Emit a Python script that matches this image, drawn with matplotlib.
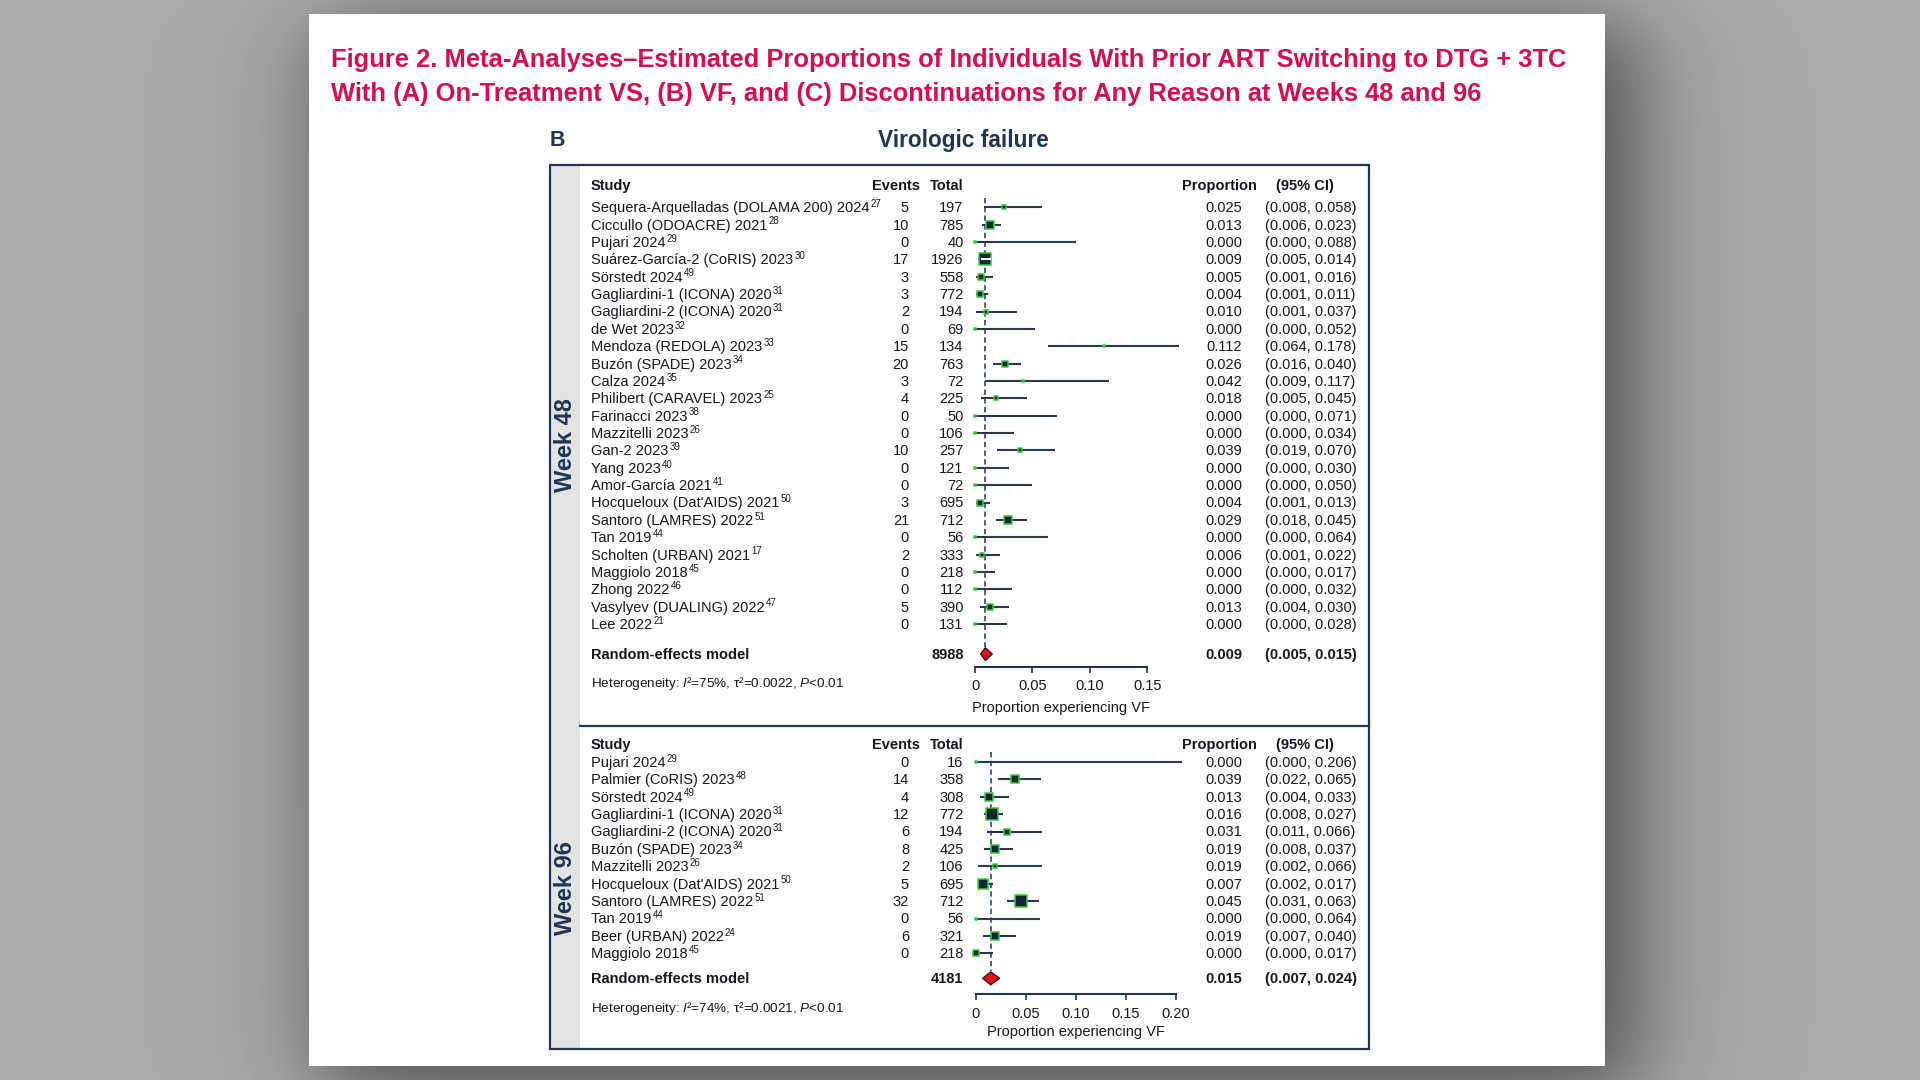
import numpy as np
import matplotlib
matplotlib.use("Agg")
import matplotlib.pyplot as plt
from matplotlib import transforms
from matplotlib.patches import Rectangle, Polygon

plt.rcParams['font.family'] = ['Liberation Sans', 'DejaVu Sans']
plt.rcParams['mathtext.fontset'] = 'custom'
plt.rcParams['mathtext.rm'] = 'Liberation Sans'
plt.rcParams['mathtext.it'] = 'Liberation Sans:italic'
plt.rcParams['mathtext.bf'] = 'Liberation Sans:bold'

# ---------------- data: Week 48 ----------------
studies_48 = ["Sequera-Arquelladas (DOLAMA 200) 2024", "Ciccullo (ODOACRE) 2021", "Pujari 2024",
              "Suárez-García-2 (CoRIS) 2023", "Sörstedt 2024", "Gagliardini-1 (ICONA) 2020",
              "Gagliardini-2 (ICONA) 2020", "de Wet 2023", "Mendoza (REDOLA) 2023", "Buzón (SPADE) 2023",
              "Calza 2024", "Philibert (CARAVEL) 2023", "Farinacci 2023", "Mazzitelli 2023", "Gan-2 2023",
              "Yang 2023", "Amor-García 2021", "Hocqueloux (Dat'AIDS) 2021", "Santoro (LAMRES) 2022",
              "Tan 2019", "Scholten (URBAN) 2021", "Maggiolo 2018", "Zhong 2022", "Vasylyev (DUALING) 2022",
              "Lee 2022"]
refs_48 = ["27", "28", "29", "30", "49", "31", "31", "32", "33", "34", "35", "25", "38", "26", "39",
           "40", "41", "50", "51", "44", "17", "45", "46", "47", "21"]
events_48 = [5, 10, 0, 17, 3, 3, 2, 0, 15, 20, 3, 4, 0, 0, 10, 0, 0, 3, 21, 0, 2, 0, 0, 5, 0]
total_48 = [197, 785, 40, 1926, 558, 772, 194, 69, 134, 763, 72, 225, 50, 106, 257, 121, 72, 695, 712,
            56, 333, 218, 112, 390, 131]
prop_48 = [0.025, 0.013, 0.000, 0.009, 0.005, 0.004, 0.010, 0.000, 0.112, 0.026, 0.042, 0.018, 0.000,
           0.000, 0.039, 0.000, 0.000, 0.004, 0.029, 0.000, 0.006, 0.000, 0.000, 0.013, 0.000]
lo_48 = [0.008, 0.006, 0.000, 0.005, 0.001, 0.001, 0.001, 0.000, 0.064, 0.016, 0.009, 0.005, 0.000,
         0.000, 0.019, 0.000, 0.000, 0.001, 0.018, 0.000, 0.001, 0.000, 0.000, 0.004, 0.000]
hi_48 = [0.058, 0.023, 0.088, 0.014, 0.016, 0.011, 0.037, 0.052, 0.178, 0.040, 0.117, 0.045, 0.071,
         0.034, 0.070, 0.030, 0.050, 0.013, 0.045, 0.064, 0.022, 0.017, 0.032, 0.030, 0.028]
weight_48 = [2.5, 8.1, 0.9, 16.9, 4.9, 6.4, 2.5, 0.9, 1.6, 7.2, 0.9, 3.6, 0.9, 0.9, 3.6, 0.9, 0.9,
             6.4, 8.1, 0.9, 3.6, 1.6, 0.9, 4.9, 0.9]
pooled_48 = [0.009, 0.005, 0.015]
het_48 = "Heterogeneity: $I$²=75%, τ²=0.0022, $P$<0.01"
ticks_48 = [0, 0.05, 0.10, 0.15]
ticklabels_48 = ["0", "0.05", "0.10", "0.15"]

# ---------------- data: Week 96 ----------------
studies_96 = ["Pujari 2024", "Palmier (CoRIS) 2023", "Sörstedt 2024", "Gagliardini-1 (ICONA) 2020",
              "Gagliardini-2 (ICONA) 2020", "Buzón (SPADE) 2023", "Mazzitelli 2023",
              "Hocqueloux (Dat'AIDS) 2021", "Santoro (LAMRES) 2022", "Tan 2019", "Beer (URBAN) 2022",
              "Maggiolo 2018"]
refs_96 = ["29", "48", "49", "31", "31", "34", "26", "50", "51", "44", "24", "45"]
events_96 = [0, 14, 4, 12, 6, 8, 2, 5, 32, 0, 6, 0]
total_96 = [16, 358, 308, 772, 194, 425, 106, 695, 712, 56, 321, 218]
prop_96 = [0.000, 0.039, 0.013, 0.016, 0.031, 0.019, 0.019, 0.007, 0.045, 0.000, 0.019, 0.000]
lo_96 = [0.000, 0.022, 0.004, 0.008, 0.011, 0.008, 0.002, 0.002, 0.031, 0.000, 0.007, 0.000]
hi_96 = [0.206, 0.065, 0.033, 0.027, 0.066, 0.037, 0.066, 0.017, 0.063, 0.064, 0.040, 0.017]
weight_96 = [0.9, 8.1, 8.1, 16.9, 4.9, 10.0, 2.5, 14.4, 16.9, 0.9, 8.1, 4.9]
pooled_96 = [0.015, 0.007, 0.024]
het_96 = "Heterogeneity: $I$²=74%, τ²=0.0021, $P$<0.01"
ticks_96 = [0, 0.05, 0.10, 0.15, 0.20]
ticklabels_96 = ["0", "0.05", "0.10", "0.15", "0.20"]

title_lines = ["Figure 2. Meta-Analyses–Estimated Proportions of Individuals With Prior ART Switching to DTG + 3TC",
               "With (A) On-Treatment VS, (B) VF, and (C) Discontinuations for Any Reason at Weeks 48 and 96"]
panel_letter = "B"
panel_title = "Virologic failure"
xlabel = "Proportion experiencing VF"

# ---------------- styles ----------------
W, H = 1920, 1080
NAVY = '#1d3557'
TXT = '#16161f'
CRIMSON = '#d60c55'
CI_COL = '#2b3850'
SQ_FILL = '#14213d'
SQ_EDGE = '#2fd12f'
FS = 10.5

fig = plt.figure(figsize=(19.2, 10.8), dpi=100)
fig.patch.set_facecolor('#a8a8a8')

# background page with soft shadow (pixel coordinates)
bg = fig.add_axes([0, 0, 1, 1], zorder=0)
bg.set_axis_off()
xx = np.arange(W) + 0.5
yy = np.arange(H) + 0.5


def soft(v, a, b, s):
    return 1 / (1 + np.exp(-(v - a) / s)) / (1 + np.exp((v - b) / s))


sh = np.outer(soft(yy, 24, 1092, 24), soft(xx, 322, 1636, 30))
bg.imshow(0.665 - 0.36 * sh, cmap='gray', vmin=0, vmax=1, extent=(0, W, H, 0),
          interpolation='bilinear', aspect='auto')
bg.set_xlim(0, W)
bg.set_ylim(H, 0)
bg.add_patch(Rectangle((309, 14), 1605 - 309, 1066 - 14, facecolor='white', edgecolor='none', zorder=1))

# titles
bg.text(331, 66.5, title_lines[0], fontsize=18.4, fontweight='bold', color=CRIMSON, ha='left', va='baseline')
bg.text(331, 101, title_lines[1], fontsize=18.4, fontweight='bold', color=CRIMSON, ha='left', va='baseline')
bg.text(550, 141, panel_letter, fontsize=15.5, fontweight='bold', color=NAVY, ha='left', va='center')
bg.text(963, 141, panel_title, fontsize=16.3, fontweight='bold', color=NAVY, ha='center', va='center')

# panel frame, side strip, divider
bg.add_patch(Rectangle((550, 165), 30, 1049 - 165, facecolor='#e3e3e3', edgecolor='none', zorder=2))
bg.add_patch(Rectangle((550, 165), 1369 - 550, 1049 - 165, facecolor='none', edgecolor=NAVY,
                       lw=1.6, zorder=3))
bg.plot([580, 1369], [726, 726], color=NAVY, lw=1.6, zorder=3)
bg.text(565, 445, "Week 48", rotation=90, fontsize=17, fontweight='bold', color=NAVY,
        ha='center', va='center', zorder=4)
bg.text(565, 888, "Week 96", rotation=90, fontsize=17, fontweight='bold', color=NAVY,
        ha='center', va='center', zorder=4)

COL_STUDY = 591
COL_EVENTS = 909
COL_TOTAL = 963.5
COL_PROP = 1242
COL_CI = 1265
BASE_DROP = 4.9  # px from row centre to text baseline


def forest(studies, refs, events, total, prop, lo, hi, weight, pooled, het, ticks, ticklabels,
           x0px, ppu, xmax, row0, rowh, header_row, het_row, xlabel_py, pooled_gap, axis_gap):
    n = len(studies)
    pooled_row = n - 1 + pooled_gap
    ytop, ybot = -1.5, pooled_row + axis_gap
    top_py = row0 + ytop * rowh
    bot_py = row0 + ybot * rowh
    ax = fig.add_axes([x0px / W, 1 - bot_py / H, ppu * xmax / W, (bot_py - top_py) / H], zorder=2)
    ax.set_facecolor('none')
    ax.set_xlim(0, xmax)
    ax.set_ylim(ybot, ytop)
    for s in ['top', 'right', 'left']:
        ax.spines[s].set_visible(False)
    ax.spines['bottom'].set_color(NAVY)
    ax.spines['bottom'].set_linewidth(1.5)
    ax.set_yticks([])
    ax.set_xticks(ticks)
    ax.set_xticklabels(ticklabels)
    ax.tick_params(axis='x', direction='out', length=4.5, width=1.2, color=NAVY, pad=4.6,
                   labelsize=FS, labelcolor=TXT)

    T0 = transforms.blended_transform_factory(bg.transData, ax.transData)
    T = transforms.offset_copy(T0, fig=fig, x=0, y=-BASE_DROP, units='dots')
    # headers
    hdr = dict(fontsize=FS, fontweight='bold', color=TXT, va='baseline', transform=T)
    bg.text(COL_STUDY, header_row, "Study", ha='left', **hdr)
    bg.text(920, header_row, "Events", ha='right', **hdr)
    bg.text(COL_TOTAL, header_row, "Total", ha='right', **hdr)
    bg.text(1257, header_row, "Proportion", ha='right', **hdr)
    bg.text(1276, header_row, "(95% CI)", ha='left', **hdr)

    wmax = 16.9
    for i in range(n):
        rk = dict(fontsize=FS, color=TXT, va='baseline', transform=T)
        name = bg.text(COL_STUDY, i, studies[i], ha='left', **rk)
        bg.annotate(refs[i], xy=(1, 1), xycoords=name, xytext=(0.8, 1.6), textcoords='offset points',
                    ha='left', va='top', fontsize=7, color=TXT)
        bg.text(COL_EVENTS, i, str(events[i]), ha='right', **rk)
        bg.text(COL_TOTAL, i, str(total[i]), ha='right', **rk)
        bg.text(COL_PROP, i, f"{prop[i]:.3f}", ha='right', **rk)
        bg.text(COL_CI, i, f"({lo[i]:.3f}, {hi[i]:.3f})", ha='left', **rk)

        side = 13 * np.sqrt(weight[i] / wmax)
        ax.plot([lo[i], hi[i]], [i, i], color=CI_COL, lw=1.5, solid_capstyle='butt',
                clip_on=False, zorder=3)
        ms = max(side - 1.5, 0.9) / 1.389
        ax.scatter([prop[i]], [i], marker='s', s=ms ** 2, facecolor=SQ_FILL, edgecolor=SQ_EDGE,
                   linewidths=1.1, clip_on=False, zorder=4)
        hw = side / 2 / ppu
        if lo[i] >= prop[i] - hw and hi[i] <= prop[i] + hw:
            ax.plot([lo[i], hi[i]], [i, i], color='white', lw=1.5, solid_capstyle='butt',
                    clip_on=False, zorder=5)

    p, l, h = pooled
    ax.plot([p, p], [-0.55, pooled_row - 0.4], color=NAVY, lw=1.1, dashes=(3.5, 2.2),
            clip_on=False, zorder=2)
    dh = 0.37
    ax.add_patch(Polygon([(l, pooled_row), (p, pooled_row - dh), (h, pooled_row), (p, pooled_row + dh)],
                         closed=True, facecolor='#e3121b', edgecolor='#4a0a0a', lw=1.0,
                         clip_on=False, zorder=5))
    bk = dict(fontsize=FS, fontweight='bold', color=TXT, va='baseline', transform=T)
    bg.text(COL_STUDY, pooled_row, "Random-effects model", ha='left', **bk)
    bg.text(COL_TOTAL, pooled_row, str(int(np.sum(total))), ha='right', **bk)
    bg.text(COL_PROP, pooled_row, f"{p:.3f}", ha='right', **bk)
    bg.text(COL_CI, pooled_row, f"({l:.3f}, {h:.3f})", ha='left', **bk)
    bg.text(COL_STUDY, het_row, het, ha='left', fontsize=9.7, color=TXT, va='center', transform=T0)

    TL = transforms.blended_transform_factory(ax.transAxes, bg.transData)
    bg.text(0.5, xlabel_py, xlabel, ha='center', va='center', fontsize=FS, color=TXT, transform=TL)
    return ax


forest(studies_48, refs_48, events_48, total_48, prop_48, lo_48, hi_48, weight_48, pooled_48, het_48,
       ticks_48, ticklabels_48, x0px=975, ppu=1148, xmax=0.15, row0=207.3, rowh=17.37,
       header_row=-1.28, het_row=27.44, xlabel_py=708, pooled_gap=1.72, axis_gap=0.73)
forest(studies_96, refs_96, events_96, total_96, prop_96, lo_96, hi_96, weight_96, pooled_96, het_96,
       ticks_96, ticklabels_96, x0px=975.7, ppu=1000, xmax=0.20, row0=762, rowh=17.39,
       header_row=-1.035, het_row=14.2, xlabel_py=1031.7, pooled_gap=1.44, axis_gap=0.9)

fig.savefig("out.png", dpi=100, facecolor=fig.get_facecolor())
